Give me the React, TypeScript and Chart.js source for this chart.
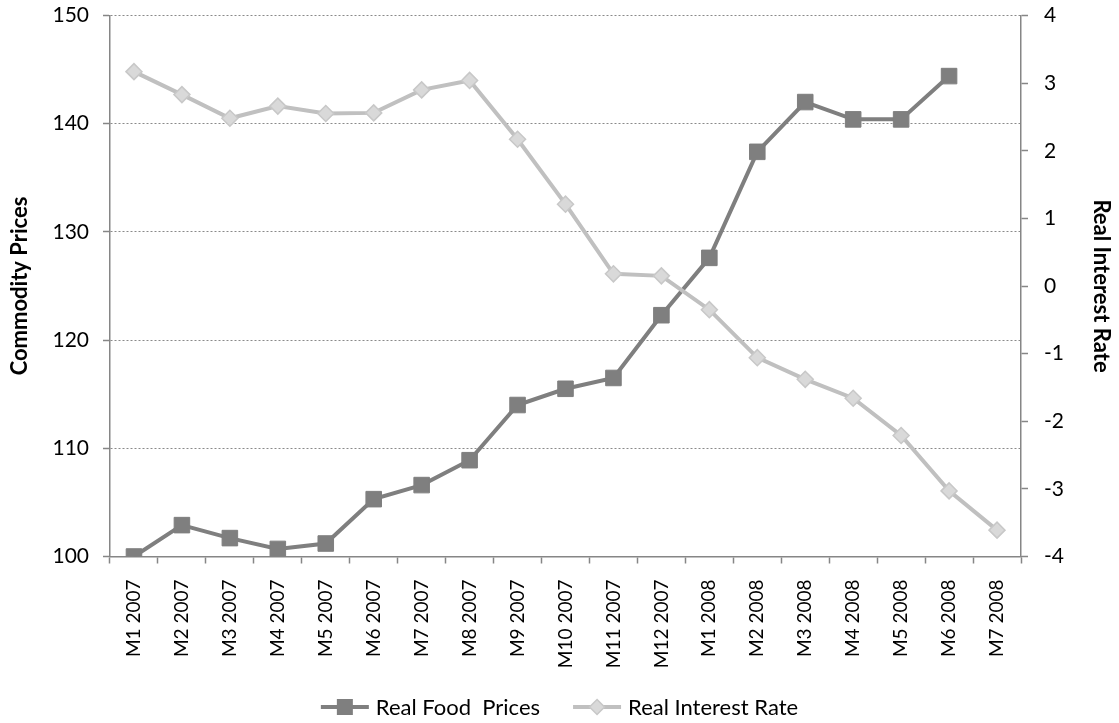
import React, { useEffect, useRef } from "react";
import { Chart, registerables } from "chart.js";

Chart.register(...registerables);

const categories = [
  "M1 2007", "M2 2007", "M3 2007", "M4 2007", "M5 2007", "M6 2007", "M7 2007",
  "M8 2007", "M9 2007", "M10 2007", "M11 2007", "M12 2007",
  "M1 2008", "M2 2008", "M3 2008", "M4 2008", "M5 2008", "M6 2008", "M7 2008",
];

const foodPrices: (number | null)[] = [
  100.0, 102.9, 101.7, 100.7, 101.2, 105.3, 106.6, 108.9, 114.0, 115.5, 116.5, 122.3,
  127.6, 137.4, 142.0, 140.4, 140.4, 144.4, null,
];

const interestRate = [
  3.17, 2.83, 2.48, 2.66, 2.55, 2.56, 2.9, 3.04, 2.17, 1.21, 0.18, 0.15,
  -0.35, -1.06, -1.38, -1.66, -2.21, -3.03, -3.61,
];

const seriesNames = ["Real Food  Prices", "Real Interest Rate"];

const FONT = "Lato, 'Open Sans', sans-serif";
const AXIS = "#868686";
const FOOD = "#7f7f7f";
const RATE = "#c0c0c0";
const RATE_FILL = "#d9d9d9";
const RATE_EDGE = "#c8c8c8";

function drawLegendMarker(ctx: CanvasRenderingContext2D, kind: "rect" | "diamond", x: number, y: number) {
  ctx.save();
  ctx.lineWidth = 4;
  ctx.strokeStyle = kind === "rect" ? FOOD : RATE;
  ctx.beginPath();
  ctx.moveTo(x, y);
  ctx.lineTo(x + 48, y);
  ctx.stroke();
  if (kind === "rect") {
    ctx.fillStyle = FOOD;
    ctx.fillRect(x + 16, y - 8, 16, 16);
  } else {
    ctx.fillStyle = RATE_FILL;
    ctx.strokeStyle = RATE_EDGE;
    ctx.lineWidth = 1.5;
    ctx.beginPath();
    ctx.moveTo(x + 24, y - 7.5);
    ctx.lineTo(x + 31.5, y);
    ctx.lineTo(x + 24, y + 7.5);
    ctx.lineTo(x + 16.5, y);
    ctx.closePath();
    ctx.fill();
    ctx.stroke();
  }
  ctx.restore();
}

const bottomLegend = {
  id: "bottomLegend",
  afterDraw(chart: any) {
    const ctx: CanvasRenderingContext2D = chart.ctx;
    ctx.save();
    ctx.font = `22px ${FONT}`;
    ctx.fillStyle = "#000";
    ctx.textBaseline = "middle";
    ctx.textAlign = "left";
    const markerW = 48;
    const gap = 7;
    const itemGap = 33;
    const kinds: ("rect" | "diamond")[] = ["rect", "diamond"];
    const widths = seriesNames.map((t) => markerW + gap + ctx.measureText(t).width);
    const total = widths.reduce((a, b) => a + b, 0) + itemGap;
    let x = chart.width / 2 - total / 2;
    const y = 707;
    seriesNames.forEach((t, i) => {
      drawLegendMarker(ctx, kinds[i], x, y);
      ctx.fillText(t, x + markerW + gap, y + 1);
      x += widths[i] + itemGap;
    });
    ctx.restore();
  },
};

const noVerticalPadding = (s: any, w: number) => {
  s.width = w;
  s.paddingTop = 0;
  s.paddingBottom = 0;
};

export default function App() {
  const ref = useRef<HTMLCanvasElement | null>(null);

  useEffect(() => {
    document.body.style.margin = "0";
    if (!ref.current) return;
    const chart = new Chart(ref.current, {
      type: "line",
      data: {
        labels: categories,
        datasets: [
          {
            label: seriesNames[0],
            data: foodPrices,
            yAxisID: "y",
            borderColor: FOOD,
            backgroundColor: FOOD,
            borderWidth: 4,
            pointStyle: "rect",
            pointRadius: 11,
            pointBorderWidth: 1,
            pointBackgroundColor: FOOD,
            pointBorderColor: FOOD,
            order: 2,
            tension: 0,
          },
          {
            label: seriesNames[1],
            data: interestRate,
            yAxisID: "y1",
            borderColor: RATE,
            backgroundColor: RATE_FILL,
            borderWidth: 4,
            pointStyle: "rectRot",
            pointRadius: 8,
            pointBorderWidth: 1.5,
            pointBackgroundColor: RATE_FILL,
            pointBorderColor: RATE_EDGE,
            order: 1,
            tension: 0,
          },
        ],
      },
      plugins: [bottomLegend],
      options: {
        animation: false,
        responsive: false,
        maintainAspectRatio: false,
        layout: { autoPadding: false, padding: { top: 15.5, left: 0, right: 0, bottom: 0 } },
        plugins: {
          tooltip: { enabled: false },
          legend: { display: false },
        },
        scales: {
          x: {
            type: "category",
            offset: true,
            afterFit: (s: any) => { s.height = 166.5; },
            grid: {
              offset: true,
              drawOnChartArea: false,
              drawTicks: true,
              tickLength: 7,
              color: AXIS,
              tickColor: AXIS,
              tickWidth: 1.5,
            },
            border: { display: true, color: AXIS, width: 1.5 },
            ticks: {
              color: "#000",
              font: { family: FONT, size: 19 },
              minRotation: 90,
              maxRotation: 90,
              autoSkip: false,
              padding: 16,
            },
          },
          y: {
            position: "left",
            min: 100,
            max: 150,
            afterFit: (s: any) => noVerticalPadding(s, 110),
            grid: {
              drawOnChartArea: true,
              drawTicks: true,
              tickLength: 7,
              color: "#8a8a8a",
              lineWidth: 1,
              tickColor: AXIS,
              tickWidth: 1.5,
              tickBorderDash: [],
            },
            border: { display: true, color: AXIS, width: 1.5, dash: [2, 2] },
            ticks: {
              stepSize: 10,
              color: "#000",
              font: { family: FONT, size: 21 },
              padding: 14,
            },
            title: {
              display: true,
              text: "Commodity Prices",
              color: "#000",
              font: { family: FONT, size: 22, weight: "bold" },
              padding: { top: 7, bottom: 4 },
            },
          },
          y1: {
            position: "right",
            min: -4,
            max: 4,
            afterFit: (s: any) => noVerticalPadding(s, 98),
            grid: {
              drawOnChartArea: false,
              drawTicks: true,
              tickLength: 7,
              color: AXIS,
              tickColor: AXIS,
              tickWidth: 1.5,
            },
            border: { display: true, color: AXIS, width: 1.5 },
            ticks: {
              stepSize: 1,
              color: "#000",
              font: { family: FONT, size: 21 },
              padding: 16,
            },
            title: {
              display: true,
              text: "Real Interest Rate",
              color: "#000",
              font: { family: FONT, size: 22, weight: "bold" },
              padding: { top: 5, bottom: 4 },
            },
          },
        },
      },
    });
    return () => chart.destroy();
  }, []);

  return (
    <div style={{ width: 1119, height: 723 }}>
      <canvas ref={ref} width={1119} height={723} style={{ display: "block" }} />
    </div>
  );
}
